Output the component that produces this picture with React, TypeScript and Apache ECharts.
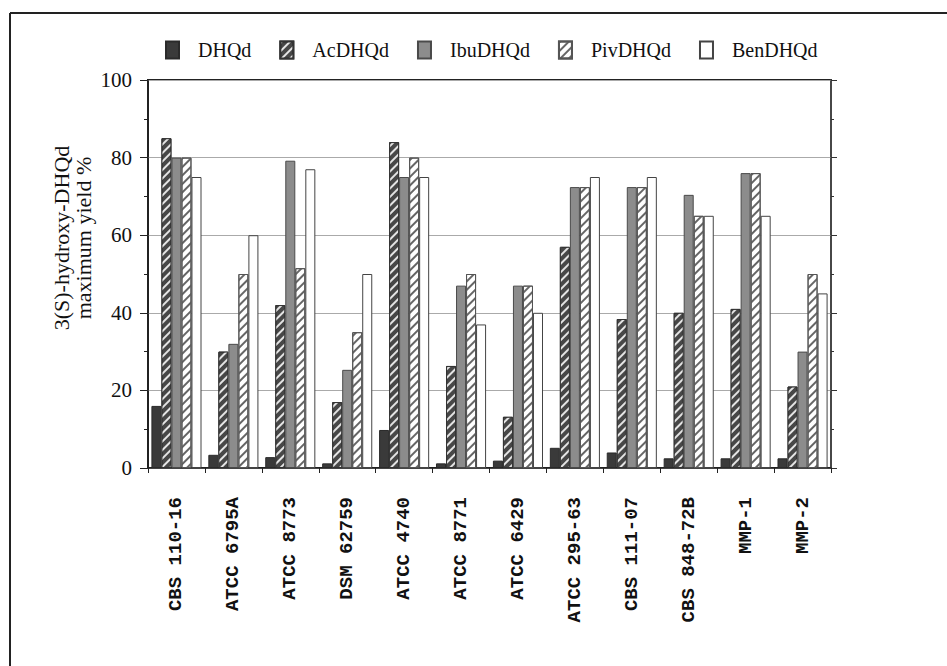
import React, { useEffect, useRef } from "react";
import * as echarts from "echarts";

const categories = [
  "CBS 110-16", "ATCC 6795A", "ATCC 8773", "DSM 62759", "ATCC 4740", "ATCC 8771",
  "ATCC 6429", "ATCC 295-63", "CBS 111-07", "CBS 848-72B", "MMP-1", "MMP-2",
];
const seriesNames = ["DHQd", "AcDHQd", "IbuDHQd", "PivDHQd", "BenDHQd"];
const dhqd = [16, 3.4, 2.8, 1.2, 9.8, 1.2, 1.9, 5.2, 4, 2.5, 2.5, 2.5];
const acdhqd = [85, 30, 42, 17, 84, 26.3, 13.2, 57, 38.4, 40, 41, 21];
const ibudhqd = [80, 32, 79.2, 25.3, 75, 47, 47, 72.4, 72.4, 70.4, 76, 30];
const pivdhqd = [80, 50, 51.5, 35, 80, 50, 47, 72.4, 72.4, 65, 76, 50];
const bendhqd = [75, 60, 77, 50, 75, 37, 40, 75, 75, 65, 65, 45];
const yTicks = [0, 20, 40, 60, 80, 100];

const serif = "'Liberation Serif', 'DejaVu Serif', serif";
const mono = "'Liberation Mono', 'DejaVu Sans Mono', monospace";

export default function App() {
  const ref = useRef<HTMLDivElement>(null);
  useEffect(() => {
    if (!ref.current) return;
    const chart = echarts.init(ref.current, null, { renderer: "svg" });
    const styles = [
      { color: "#3a3a3a", borderColor: "#2a2a2a", borderWidth: 1 },
      {
        color: "#474747", borderColor: "#333", borderWidth: 1,
        decal: { symbol: "rect", symbolSize: 1, color: "rgba(255,255,255,0.85)", dashArrayX: [1, 0], dashArrayY: [2, 4], rotation: -Math.PI / 4 },
      },
      { color: "#8c8c8c", borderColor: "#4a4a4a", borderWidth: 1 },
      {
        color: "#ffffff", borderColor: "#555", borderWidth: 1,
        decal: { symbol: "rect", symbolSize: 1, color: "#666", dashArrayX: [1, 0], dashArrayY: [2, 4], rotation: -Math.PI / 4 },
      },
      { color: "#ffffff", borderColor: "#444", borderWidth: 1 },
    ];
    const data = [dhqd, acdhqd, ibudhqd, pivdhqd, bendhqd];
    const yMax = yTicks[yTicks.length - 1];
    const yInterval = yTicks[1] - yTicks[0];
    chart.setOption({
      animation: false,
      backgroundColor: "#ffffff",
      grid: { left: 148, right: 116, top: 80, bottom: 198, show: true, borderColor: "#222", borderWidth: 2, backgroundColor: "transparent" },
      legend: {
        top: 35,
        left: 160,
        icon: "rect",
        itemWidth: 13,
        itemHeight: 17,
        itemGap: 28,
        textStyle: { fontFamily: serif, fontSize: 20, color: "#111", padding: [0, 0, 0, 14] },
        data: seriesNames,
      },
      graphic: [
        { type: "line", shape: { x1: 10, y1: 13, x2: 947, y2: 13 }, style: { stroke: "#222", lineWidth: 2 } },
        { type: "line", shape: { x1: 10, y1: 13, x2: 10, y2: 666 }, style: { stroke: "#222", lineWidth: 2 } },
        {
          type: "text", x: 72, y: 238, rotation: Math.PI / 2,
          style: { text: "3(S)-hydroxy-DHQd\nmaximum yield %", align: "center", verticalAlign: "middle", font: `22px ${serif}`, lineHeight: 22, fill: "#111" },
        },
      ],
      xAxis: {
        type: "category",
        data: categories,
        axisLine: { lineStyle: { color: "#222", width: 1.5 } },
        axisTick: { show: true, inside: false, length: 5, lineStyle: { color: "#222" } },
        axisLabel: { rotate: 90, margin: 29, fontFamily: mono, fontWeight: "bold", fontSize: 19, color: "#111" },
      },
      yAxis: [
        {
          type: "value", min: 0, max: yMax, interval: yInterval,
          axisLine: { show: true, lineStyle: { color: "#222", width: 1.5 } },
          axisTick: { show: true, length: 8, lineStyle: { color: "#222" } },
          minorTick: { show: true, splitNumber: 2, length: 4, lineStyle: { color: "#222" } },
          splitLine: { show: true, lineStyle: { color: "#aaa", width: 1.2 } },
          axisLabel: { margin: 16, fontFamily: serif, fontSize: 21, color: "#111" },
        },
        {
          type: "value", min: 0, max: yMax, interval: yInterval, position: "right",
          axisLine: { show: true, lineStyle: { color: "#555", width: 1.5 } },
          axisTick: { show: true, length: 6, lineStyle: { color: "#333" } },
          minorTick: { show: true, splitNumber: 2, length: 3, lineStyle: { color: "#333" } },
          splitLine: { show: false },
          axisLabel: { show: false },
        },
      ],
      series: seriesNames.map((name, i) => ({
        name,
        type: "bar",
        data: data[i],
        barGap: "0%",
        barCategoryGap: "12%",
        itemStyle: styles[i],
      })),
    });
    return () => chart.dispose();
  }, []);
  return <div ref={ref} style={{ width: 947, height: 666, position: "absolute", left: 0, top: 0 }} />;
}
